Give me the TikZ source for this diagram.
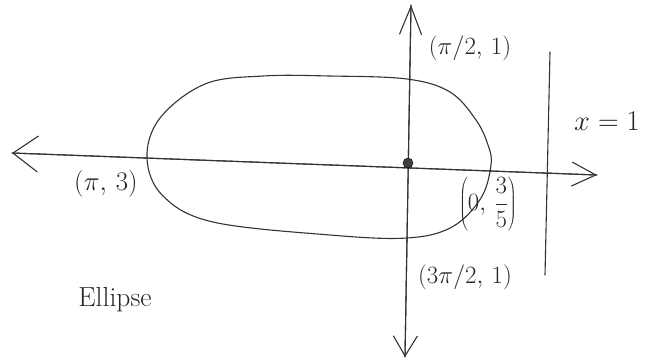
\documentclass[tikz,border=0pt]{standalone}
\usetikzlibrary{arrows.meta}
\begin{document}
\begin{tikzpicture}[x=1pt,y=-1pt,
  pencil/.style={draw=black!80,line width=1.1pt,line cap=round,line join=round},
  lbl/.style={font=\fontsize{24}{26}\selectfont,text=black!85,inner sep=0pt}]
\useasboundingbox (0,0) rectangle (654,360);
% coordinates
\coordinate (L) at (12,153);
\coordinate (R) at (597,175);
\coordinate (T) at (411,5);
\coordinate (B) at (405,357);
\coordinate (A1) at (550,52);
\coordinate (A2) at (545,275);
% axes
\draw[pencil,-{Straight Barb[length=28pt,width=22pt,line width=1.1pt]}] (B) -- (T);
\draw[pencil,-{Straight Barb[length=20pt,width=24pt,line width=1.1pt]}] (T) -- (B);
\draw[pencil,-{Straight Barb[length=25pt,width=36pt,line width=1.1pt]}] (R) -- (L);
\draw[pencil,-{Straight Barb[length=24pt,width=24pt,line width=1.1pt]}] (L) -- (R);
% ellipse
\draw[pencil] plot[smooth cycle,tension=0.6] coordinates {
 (147,158) (160,118) (205,84) (263,76) (330,76) (407,79) (450,92)
 (476,120) (488,145) (491,165) (481,198) (452,227) (407,238) (330,235)
 (213,222) (163,196)};
% origin
\node[circle,fill=black!75,draw=black,minimum size=10pt,inner sep=0pt] (O) at (408,163) {};
% x = 1 line
\draw[pencil] (A1) -- (A2);
% labels
\node[lbl] (p1) at (470,48) {$(\pi/2,\,1)$};
\node[lbl,scale=1.08] (p2) at (106,184) {$(\pi,\,3)$};
\node[lbl] (p3) at (488,204) {$\left(0,\,\displaystyle\frac{3}{5}\right)$};
\node[lbl] (p4) at (465,277) {$(3\pi/2,\,1)$};
\node[lbl,anchor=west,scale=1.15] (xl) at (574,121) {$x = 1$};
\node[lbl,scale=1.15] (el) at (115,300) {Ellipse};
\end{tikzpicture}
\end{document}
